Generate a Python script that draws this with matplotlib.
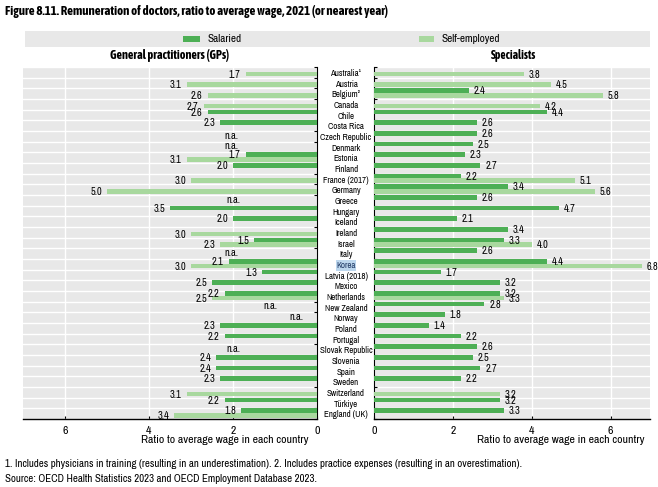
import numpy as np
import matplotlib
matplotlib.use('Agg')
import matplotlib.pyplot as plt
import matplotlib.transforms as mtransforms
from matplotlib.patches import Rectangle

plt.rcParams['font.family'] = ['Archivo Narrow', 'DejaVu Sans']
bold_font = ['Asap Condensed', 'Barlow Semi Condensed', 'Archivo Narrow', 'DejaVu Sans']

nan = np.nan
# ── Data ──────────────────────────────────────────────────────────────────────
countries = ['Australia¹', 'Austria', 'Belgium²', 'Canada', 'Chile', 'Costa Rica',
             'Czech Republic', 'Denmark', 'Estonia', 'Finland', 'France (2017)',
             'Germany', 'Greece', 'Hungary', 'Iceland', 'Ireland', 'Israel', 'Italy',
             'Korea', 'Latvia (2018)', 'Mexico', 'Netherlands', 'New Zealand',
             'Norway', 'Poland', 'Portugal', 'Slovak Republic', 'Slovenia', 'Spain',
             'Sweden', 'Switzerland', 'Türkiye', 'England (UK)']

gp_salaried = [nan, nan, nan, nan, 2.6, 2.3, nan, nan, 1.7, 2.0, nan, nan, nan, 3.5,
               2.0, nan, 1.5, nan, 2.1, 1.3, 2.5, 2.2, nan, nan, 2.3, 2.2, nan, 2.4,
               2.4, 2.3, nan, 2.2, 1.8]
gp_self = [1.7, 3.1, 2.6, 2.7, nan, nan, nan, nan, 3.1, nan, 3.0, 5.0, nan, nan,
           nan, 3.0, 2.3, nan, 3.0, nan, nan, 2.5, nan, nan, nan, nan, nan, nan,
           nan, nan, 3.1, nan, 3.4]
sp_salaried = [nan, nan, 2.4, nan, 4.4, 2.6, 2.6, 2.5, 2.3, 2.7, 2.2, 3.4, 2.6, 4.7,
               2.1, 3.4, 3.3, 2.6, 4.4, 1.7, 3.2, 3.2, 2.8, 1.8, 1.4, 2.2, 2.6, 2.5,
               2.7, 2.2, nan, 3.2, 3.3]
sp_self = [3.8, 4.5, 5.8, 4.2, nan, nan, nan, nan, nan, nan, 5.1, 5.6, nan, nan,
           nan, nan, 4.0, nan, 6.8, nan, nan, 3.3, nan, nan, nan, nan, nan, nan,
           nan, nan, 3.2, nan, nan]

# GP "n.a." notes: country -> x position of the note
gp_na = {'Czech Republic': 2.05, 'Denmark': 2.05, 'Greece': 2.0, 'Italy': 2.05,
         'New Zealand': 1.1, 'Norway': 0.5, 'Slovak Republic': 2.0}

# ── Style ─────────────────────────────────────────────────────────────────────
c_sal = '#4DAF55'
c_self = '#A8D89E'
c_bg = '#E8E8E8'
W, H = 658, 487

fig = plt.figure(figsize=(W / 100, H / 100), dpi=100)
axL = fig.add_axes([23 / W, 1 - 419 / H, 294 / W, 352 / H])
axR = fig.add_axes([374 / W, 1 - 419 / H, 276 / W, 352 / H])

rows = np.arange(len(countries))
off_sal, off_self, bh = 0.22, 0.66, 0.42


def draw_panel(ax, sal, slf, side):
    ax.set_facecolor(c_bg)
    ax.barh(rows + off_sal, np.nan_to_num(sal), height=bh, color=c_sal, zorder=3)
    ax.barh(rows + off_self, np.nan_to_num(slf), height=bh, color=c_self, zorder=3)
    ha = 'right' if side == 'L' else 'left'
    for i in rows:
        for v, off in ((sal[i], off_sal), (slf[i], off_self)):
            if not np.isnan(v):
                ax.text(v + 0.12, i + off + 0.05, f'{v:.1f}', ha=ha, va='center',
                        fontsize=7.5, zorder=4)
    ax.set_ylim(len(countries), 0)
    ax.set_yticks(np.arange(len(countries) + 1))
    ax.set_yticklabels([])
    ax.set_xticks([0, 2, 4, 6])
    ax.grid(True, color='white', lw=1.0, zorder=1)
    ax.set_axisbelow(True)
    ax.tick_params(axis='both', direction='in', length=2.5, width=0.8,
                   labelsize=8.5, pad=5, color='black')
    for s in ['top', 'left', 'right']:
        ax.spines[s].set_visible(False)
    ax.spines['bottom'].set_linewidth(1.0)


draw_panel(axL, gp_salaried, gp_self, 'L')
axL.set_xlim(7, 0)
axL.spines['right'].set_visible(True)
axL.yaxis.tick_right()
axL.tick_params(axis='y', direction='in', length=2.5)

draw_panel(axR, sp_salaried, sp_self, 'R')
axR.set_xlim(0, 7)
axR.spines['left'].set_visible(True)

for name, xv in gp_na.items():
    i = countries.index(name)
    axL.text(xv, i + 0.45, 'n.a.', ha='center', va='center', fontsize=7.5, zorder=4)

# country labels between the panels
trans = mtransforms.blended_transform_factory(fig.transFigure, axR.transData)
for i, name in enumerate(countries):
    kw = {}
    if name == 'Korea':
        kw = dict(bbox=dict(facecolor='#BDD7EE', edgecolor='none', pad=0.6),
                  color='#1F3864')
    fig.text(346 / W, i + 0.6, name, transform=trans, ha='center', va='center',
             fontsize=6.4, **kw)

# panel titles and axis labels
fig.text(170 / W, 1 - 56 / H, 'General practitioners (GPs)', ha='center',
         va='center', fontsize=8.7, fontweight='bold', family=bold_font)
fig.text(514 / W, 1 - 56 / H, 'Specialists', ha='center', va='center',
         fontsize=8.3, fontweight='bold', family=bold_font)
fig.text(225 / W, 1 - 440 / H, 'Ratio to average wage in each country',
         ha='center', va='center', fontsize=8.5)
fig.text(561 / W, 1 - 440 / H, 'Ratio to average wage in each country',
         ha='center', va='center', fontsize=8.5)

# legend band
fig.patches.append(Rectangle((25 / W, 1 - 47 / H), 625 / W, 16 / H,
                             transform=fig.transFigure, facecolor=c_bg,
                             edgecolor='none'))
fig.patches.append(Rectangle((183 / W, 1 - 42 / H), 17 / W, 6 / H,
                             transform=fig.transFigure, facecolor=c_sal,
                             edgecolor='none'))
fig.patches.append(Rectangle((419 / W, 1 - 42 / H), 15 / W, 6 / H,
                             transform=fig.transFigure, facecolor=c_self,
                             edgecolor='none'))
fig.text(207 / W, 1 - 39 / H, 'Salaried', va='center', fontsize=8)
fig.text(441 / W, 1 - 39 / H, 'Self-employed', va='center', fontsize=8)

# title and notes
fig.text(5 / W, 1 - 12 / H,
         'Figure 8.11. Remuneration of doctors, ratio to average wage, 2021 (or nearest year)',
         va='center', fontsize=9.3, fontweight='bold', family=bold_font)
fig.text(5 / W, 1 - 464 / H,
         '1. Includes physicians in training (resulting in an underestimation). '
         '2. Includes practice expenses (resulting in an overestimation).',
         va='center', fontsize=7.8)
fig.text(5 / W, 1 - 479 / H,
         'Source: OECD Health Statistics 2023 and OECD Employment Database 2023.',
         va='center', fontsize=7.8)

fig.savefig('out.png', dpi=100)
